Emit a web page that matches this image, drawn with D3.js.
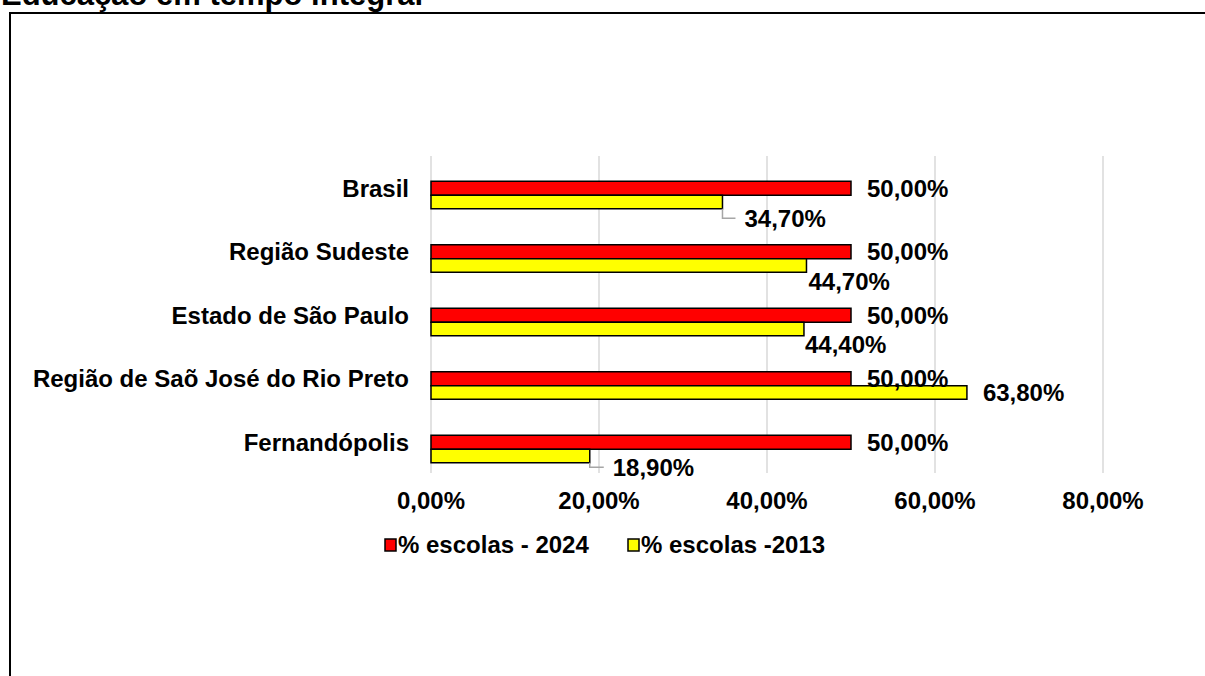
<!DOCTYPE html>
<html>
  <head>
    <meta charset="utf-8">
    <title>Educação em tempo integral</title>
    <style>
      body { margin: 0; background: #fff; }
      svg text { font-family: "Liberation Sans", Arial, sans-serif; font-weight: bold; fill: #000; }
    </style>
  </head>
  <body>
    <div id="chart"></div>
    <script src="https://cdn.jsdelivr.net/npm/d3@7"></script>
    <script>

    // data
    var categories = ["Brasil", "Região Sudeste", "Estado de São Paulo",
                      "Região de Saõ José do Rio Preto", "Fernandópolis"];
    var escolas2024 = [50.0, 50.0, 50.0, 50.0, 50.0];
    var escolas2013 = [34.7, 44.7, 44.4, 63.8, 18.9];
    var xTicks = [0, 20, 40, 60, 80];
    var seriesNames = ["% escolas - 2024", "% escolas -2013"];

    // where the 2013 labels sit relative to bar end / band centre (leader = true draws the grey elbow)
    var labelNudge = [
      {dx: 22, dy: 23, leader: true},
      {dx: 2, dy: 22.5, leader: false},
      {dx: 1, dy: 22.5, leader: false},
      {dx: 16, dy: 7, leader: false},
      {dx: 23, dy: 18, leader: true}
    ];

    var width = 1205, height = 676;
    var fontSize = 24;

    function pct(v) { return v.toFixed(2).replace(".", ",") + "%"; }

    var svg = d3.select("#chart").append("svg")
      .attr("width", width)
      .attr("height", height);

    // title, mostly cut off at the top like the source
    svg.append("text")
      .attr("x", 1)
      .attr("y", 5)
      .style("font-size", "31px")
      .text("Educação em tempo integral");

    // frame
    svg.append("rect")
      .attr("x", 10).attr("y", 13)
      .attr("width", width).attr("height", height)
      .attr("fill", "none")
      .attr("stroke", "#000")
      .attr("stroke-width", 2);

    var xScale = d3.scaleLinear()
      .domain([0, 80])
      .range([431, 1103]);

    var yScale = d3.scaleBand()
      .domain(categories)
      .range([163.5, 481]);

    var gridTop = 156, gridBottom = 473;

    // vertical gridlines
    svg.selectAll(".grid")
      .data(xTicks)
      .enter()
      .append("line")
      .attr("class", "grid")
      .attr("x1", function(d) { return xScale(d); })
      .attr("x2", function(d) { return xScale(d); })
      .attr("y1", gridTop)
      .attr("y2", gridBottom)
      .attr("stroke", "#d9d9d9")
      .attr("stroke-width", 1.5);

    // x tick labels
    svg.selectAll(".tick-label")
      .data(xTicks)
      .enter()
      .append("text")
      .attr("class", "tick-label")
      .attr("x", function(d) { return xScale(d); })
      .attr("y", 509)
      .attr("text-anchor", "middle")
      .style("font-size", fontSize + "px")
      .text(function(d) { return pct(d); });

    function mid(c) { return yScale(c) + yScale.bandwidth() / 2; }

    var redH = 14, yellowH = 13.5;

    // category labels
    svg.selectAll(".cat")
      .data(categories)
      .enter()
      .append("text")
      .attr("class", "cat")
      .attr("x", 409)
      .attr("y", function(c) { return mid(c) - redH / 2; })
      .attr("dy", "0.35em")
      .attr("text-anchor", "end")
      .style("font-size", fontSize + "px")
      .text(function(c) { return c; });

    // 2024 bars
    svg.selectAll(".bar2024")
      .data(categories)
      .enter()
      .append("rect")
      .attr("class", "bar2024")
      .attr("x", xScale(0))
      .attr("y", function(c) { return mid(c) - redH; })
      .attr("width", function(c, i) { return xScale(escolas2024[i]) - xScale(0); })
      .attr("height", redH)
      .attr("fill", "#ff0000")
      .attr("stroke", "#000")
      .attr("stroke-width", 1.5);

    // 2013 bars
    svg.selectAll(".bar2013")
      .data(categories)
      .enter()
      .append("rect")
      .attr("class", "bar2013")
      .attr("x", xScale(0))
      .attr("y", function(c) { return mid(c); })
      .attr("width", function(c, i) { return xScale(escolas2013[i]) - xScale(0); })
      .attr("height", yellowH)
      .attr("fill", "#ffff00")
      .attr("stroke", "#000")
      .attr("stroke-width", 1.5);

    // leader lines for the displaced 2013 labels
    svg.selectAll(".leader")
      .data(categories.filter(function(c, i) { return labelNudge[i].leader; }))
      .enter()
      .append("path")
      .attr("class", "leader")
      .attr("d", function(c) {
        var i = categories.indexOf(c);
        var x0 = xScale(escolas2013[i]);
        var y0 = mid(c) + yellowH;
        var y1 = mid(c) + labelNudge[i].dy;
        return "M" + x0 + "," + y0 + "V" + y1 + "H" + (x0 + labelNudge[i].dx - 9);
      })
      .attr("fill", "none")
      .attr("stroke", "#a6a6a6")
      .attr("stroke-width", 1.5);

    // 2024 value labels
    svg.selectAll(".lab2024")
      .data(categories)
      .enter()
      .append("text")
      .attr("class", "lab2024")
      .attr("x", function(c, i) { return xScale(escolas2024[i]) + 16; })
      .attr("y", function(c) { return mid(c) - redH / 2; })
      .attr("dy", "0.35em")
      .style("font-size", fontSize + "px")
      .text(function(c, i) { return pct(escolas2024[i]); });

    // 2013 value labels
    svg.selectAll(".lab2013")
      .data(categories)
      .enter()
      .append("text")
      .attr("class", "lab2013")
      .attr("x", function(c, i) { return xScale(escolas2013[i]) + labelNudge[i].dx; })
      .attr("y", function(c, i) { return mid(c) + labelNudge[i].dy; })
      .attr("dy", "0.35em")
      .style("font-size", fontSize + "px")
      .text(function(c, i) { return pct(escolas2013[i]); });

    // legend
    var legendX = [385, 628];
    var legendColors = ["#ff0000", "#ffff00"];
    var legend = svg.selectAll(".legend")
      .data(seriesNames)
      .enter()
      .append("g")
      .attr("class", "legend")
      .attr("transform", function(d, i) { return "translate(" + legendX[i] + ",545)"; });

    legend.append("rect")
      .attr("x", 0).attr("y", -6)
      .attr("width", 11).attr("height", 12)
      .attr("fill", function(d, i) { return legendColors[i]; })
      .attr("stroke", "#000")
      .attr("stroke-width", 1.5);

    legend.append("text")
      .attr("x", 13)
      .attr("y", 0)
      .attr("dy", "0.35em")
      .style("font-size", fontSize + "px")
      .text(function(d) { return d; });

    </script>
  </body>
</html>
